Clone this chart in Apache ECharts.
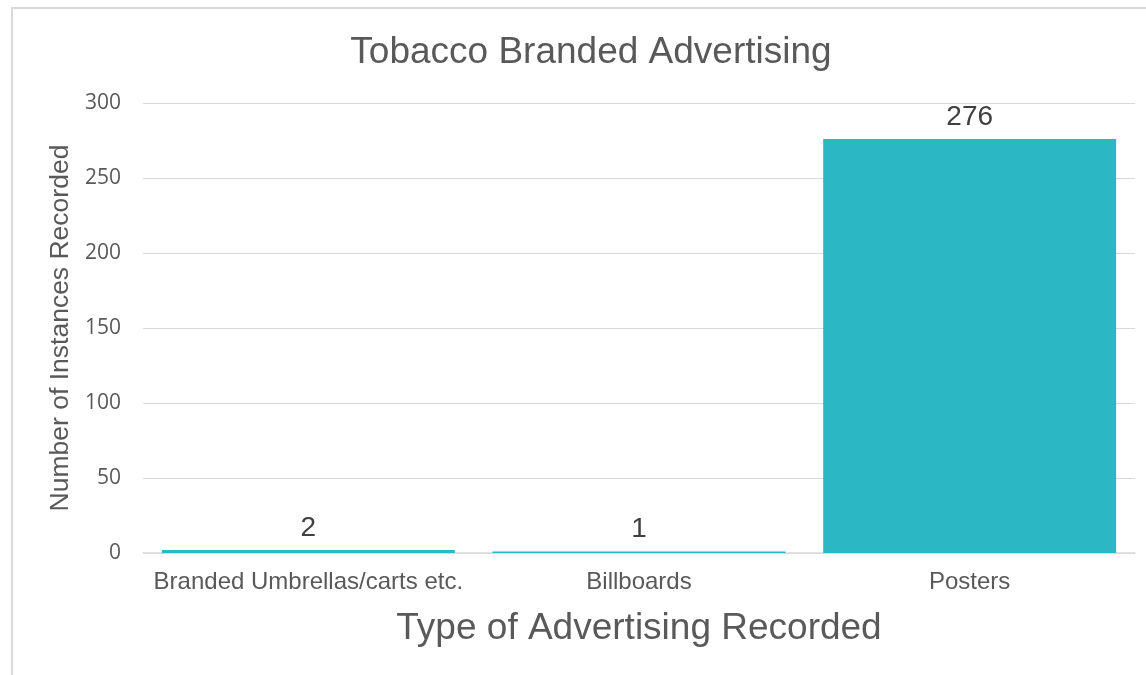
<!DOCTYPE html>
<html>
<head>
<meta charset="utf-8">
<script src="https://cdn.jsdelivr.net/npm/echarts@6/dist/echarts.min.js"></script>
<style>
  html, body { margin: 0; padding: 0; background: #fff; }
  #frame { position: absolute; left: 11px; top: 7px; right: 0; bottom: 0; border-left: 2px solid #d9d9d9; border-top: 2px solid #d9d9d9; }
  #chart { position: absolute; left: 0; top: 0; width: 1146px; height: 675px; }
</style>
</head>
<body>
<div id="frame"></div>
<div id="chart"></div>
<script>
  // data
  var categories = ['Branded Umbrellas/carts etc.', 'Billboards', 'Posters']
  var counts = [2, 1, 276]
  var yTicks = { min: 0, max: 300, interval: 50 }

  var myChart = echarts.init(document.getElementById('chart'))
  var option = {
    animation: false,
    title: {
      text: 'Tobacco Branded Advertising',
      left: 586,
      top: 29,
      textAlign: 'center',
      textStyle: { fontFamily: 'Liberation Sans', fontSize: 37, fontWeight: 'normal', color: '#595959' }
    },
    grid: { left: 143, right: 11, top: 103, bottom: 122 },
    xAxis: {
      type: 'category',
      data: categories,
      name: 'Type of Advertising Recorded',
      nameLocation: 'middle',
      nameGap: 57,
      nameTextStyle: { fontFamily: 'Liberation Sans', fontSize: 37, color: '#595959' },
      axisLine: { lineStyle: { color: '#d9d9d9', width: 1.5 } },
      axisTick: { show: false },
      axisLabel: { interval: 0, fontFamily: 'Liberation Sans', fontSize: 24, color: '#595959', margin: 17 }
    },
    yAxis: {
      type: 'value',
      min: yTicks.min,
      max: yTicks.max,
      interval: yTicks.interval,
      name: 'Number of Instances Recorded',
      nameLocation: 'middle',
      nameGap: 64,
      nameTextStyle: { fontFamily: 'Liberation Sans', fontSize: 26.5, color: '#595959' },
      axisLine: { show: false },
      axisTick: { show: false },
      axisLabel: { fontFamily: 'Open Sans', fontSize: 21, color: '#595959', margin: 22, padding: [4, 0, 0, 0] },
      splitLine: { lineStyle: { color: '#d9d9d9', width: 1 } }
    },
    series: [{
      type: 'bar',
      data: counts,
      barCategoryGap: '11.4%',
      itemStyle: { color: '#2cb7c4' },
      label: {
        show: true,
        position: 'top',
        distance: 8,
        fontFamily: 'Liberation Sans',
        fontSize: 28,
        color: '#404040'
      }
    }]
  }
  myChart.setOption(option)
</script>
</body>
</html>
